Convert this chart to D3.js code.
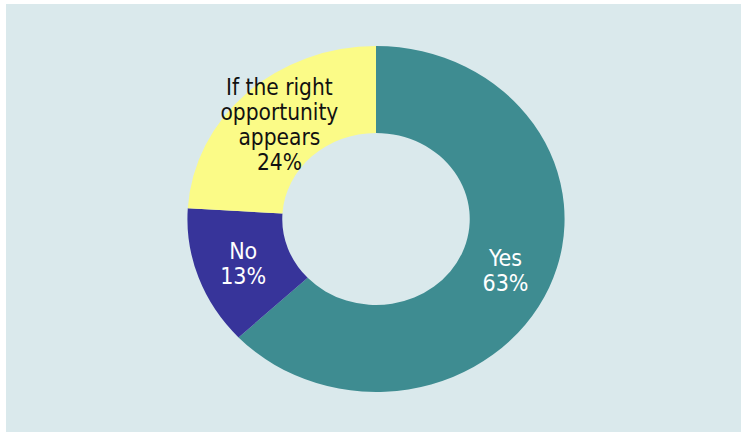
<!DOCTYPE html>
<html>
<head>
<meta charset="utf-8">
<script src="https://cdn.jsdelivr.net/npm/d3@7"></script>
<style>
  html, body { margin: 0; padding: 0; background: #ffffff; }
  svg { display: block; }
  text { font-family: "DejaVu Sans Condensed", "DejaVu Sans", sans-serif; font-stretch: condensed; }
</style>
</head>
<body>
<svg id="chart" width="741" height="432"></svg>
<script>
// Survey answers, drawn clockwise from 12 o'clock
const categories = ["Yes", "No", "If the right opportunity appears"];
const labelLines = [["Yes"], ["No"], ["If the right", "opportunity", "appears"]];
const percents = [63, 13, 24];
const sliceColors = ["#3e8c91", "#37349a", "#fbfb87"];
const textColors = ["#ffffff", "#ffffff", "#111111"];
const fontSizes = [23, 23, 22.5];

const W = 741, H = 432;
const svg = d3.select("#chart");

// panel background
svg.append("rect")
  .attr("x", 6).attr("y", 4)
  .attr("width", W - 6).attr("height", H - 4)
  .attr("fill", "#dae9ec");

const cx = 376, cy = 219;
const outerR = 173, innerR = 86;
const sx = 1.09; // the ring is drawn slightly wider than tall

const pie = d3.pie().sort(null).value(d => d.value);
const arcs = pie(categories.map((c, i) => ({ name: c, value: percents[i], i })));
const arc = d3.arc().innerRadius(innerR).outerRadius(outerR);

const ring = svg.append("g")
  .attr("transform", `translate(${cx},${cy}) scale(${sx},1)`);

ring.selectAll("path")
  .data(arcs)
  .join("path")
  .attr("d", arc)
  .attr("fill", d => sliceColors[d.data.i]);

// labels at slice centroids
const labels = svg.append("g").attr("transform", `translate(${cx},${cy})`);
const lineH = 25;

arcs.forEach(d => {
  const i = d.data.i;
  const [x, y] = arc.centroid(d);
  const lines = labelLines[i].concat([percents[i] + "%"]);
  const fs = fontSizes[i];
  const t = labels.append("text")
    .attr("text-anchor", "middle")
    .attr("fill", textColors[i])
    .attr("font-size", fs);
  const top = y - (lines.length - 1) * lineH / 2 + fs * 0.36;
  lines.forEach((ln, k) => {
    t.append("tspan")
      .attr("x", x * sx)
      .attr("y", top + k * lineH)
      .text(ln);
  });
});
</script>
</body>
</html>
